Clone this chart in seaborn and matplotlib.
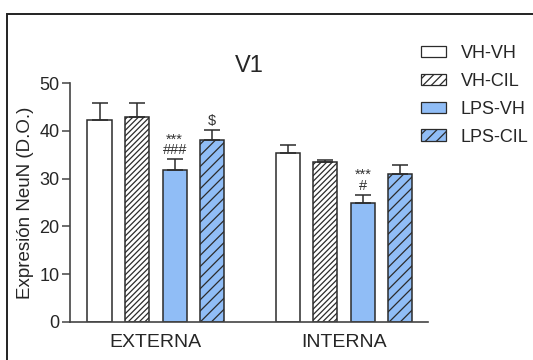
import matplotlib
matplotlib.use("Agg")
import matplotlib.pyplot as plt
import matplotlib.patches as mpatches
import numpy as np
import pandas as pd
import seaborn as sns

# Data: NeuN expression (optical density), mean and SEM per region and group
regions = ["EXTERNA", "INTERNA"]
groups = ["VH-VH", "VH-CIL", "LPS-VH", "LPS-CIL"]
means_externa = [42.2, 42.8, 31.8, 38.0]
means_interna = [35.4, 33.4, 24.9, 30.9]
sem_externa = [3.6, 3.0, 2.2, 2.2]
sem_interna = [1.7, 0.5, 1.7, 2.0]
# significance marks drawn above each error bar
marks_externa = ["", "", "***\n###", "$"]
marks_interna = ["", "", "***\n#", ""]

fills = ["#ffffff", "#ffffff", "#90bdf6", "#90bdf6"]
hatches = ["", "//////", "", "///"]
edge = "#2b2b2b"

sns.set_style("white")
plt.rcParams["font.family"] = ["Liberation Sans", "DejaVu Sans"]
plt.rcParams["hatch.linewidth"] = 0.9
plt.rcParams["hatch.color"] = edge

df = pd.DataFrame({
    "region": np.repeat(regions, len(groups)),
    "group": groups * len(regions),
    "mean": means_externa + means_interna,
    "sem": sem_externa + sem_interna,
    "mark": marks_externa + marks_interna,
})

fig = plt.figure(figsize=(5.33, 3.6), dpi=100)
ax = fig.add_axes([0.1313, 0.1056, 0.803 - 0.1313, 0.7694 - 0.1056])

sns.barplot(data=df, x="region", y="mean", hue="group", order=regions,
            hue_order=groups, palette=fills, errorbar=None, gap=0.36,
            width=0.8, edgecolor=edge, linewidth=1.1, legend=False, ax=ax)

# style each bar and add one-sided SEM bars and significance marks
bars = [p for p in ax.patches if isinstance(p, mpatches.Rectangle)]
for i, bar in enumerate(bars):
    gi = i // len(regions)
    ri = i % len(regions)
    row = df[(df.region == regions[ri]) & (df.group == groups[gi])].iloc[0]
    bar.set_hatch(hatches[gi])
    bar.set_facecolor(fills[gi])
    bar.set_edgecolor(edge)
    cx = bar.get_x() + bar.get_width() / 2
    h = bar.get_height()
    ax.errorbar(cx, h, yerr=[[0], [row["sem"]]], fmt="none", ecolor=edge,
                elinewidth=1.1, capsize=6, capthick=1.1, zorder=1)
    if row["mark"]:
        ax.annotate(row["mark"], (cx, h + row["sem"]), xytext=(0, 1.5),
                    textcoords="offset points", ha="center", va="bottom",
                    fontsize=10.5, linespacing=0.72, color="#333333")

ax.set_xlim(-0.457, 1.447)
ax.set_ylim(0, 50)
ax.set_yticks([0, 10, 20, 30, 40, 50])
ax.tick_params(axis="y", length=6, width=1.1, color="#444444", labelsize=13,
               pad=1.5, left=True)
ax.tick_params(axis="x", length=0, labelsize=14, pad=9)
ax.set_xlabel("")
ax.set_ylabel("Expresión NeuN (D.O.)", fontsize=13.5, labelpad=4)
for s in ["top", "right"]:
    ax.spines[s].set_visible(False)
for s in ["left", "bottom"]:
    ax.spines[s].set_color("#444444")
    ax.spines[s].set_linewidth(1.2)
ax.set_title("V1", fontsize=17, pad=8)

handles = [mpatches.Patch(facecolor=fills[k], edgecolor=edge, hatch=hatches[k][:4],
                          linewidth=0.9, label=groups[k]) for k in range(len(groups))]
fig.legend(handles=handles, loc="upper left", bbox_to_anchor=(0.776, 0.895),
           frameon=False, fontsize=13, handlelength=1.4, handleheight=0.6,
           handletextpad=0.8, labelspacing=0.6, borderaxespad=0)

# outer frame around the figure panel
fig.patches.append(mpatches.Rectangle((7 / 533, -0.1), 1.2, 1 - 14 / 360 + 0.1,
                                      transform=fig.transFigure, fill=False,
                                      edgecolor="#222222", linewidth=1.4))

fig.savefig("out.png", dpi=100)
